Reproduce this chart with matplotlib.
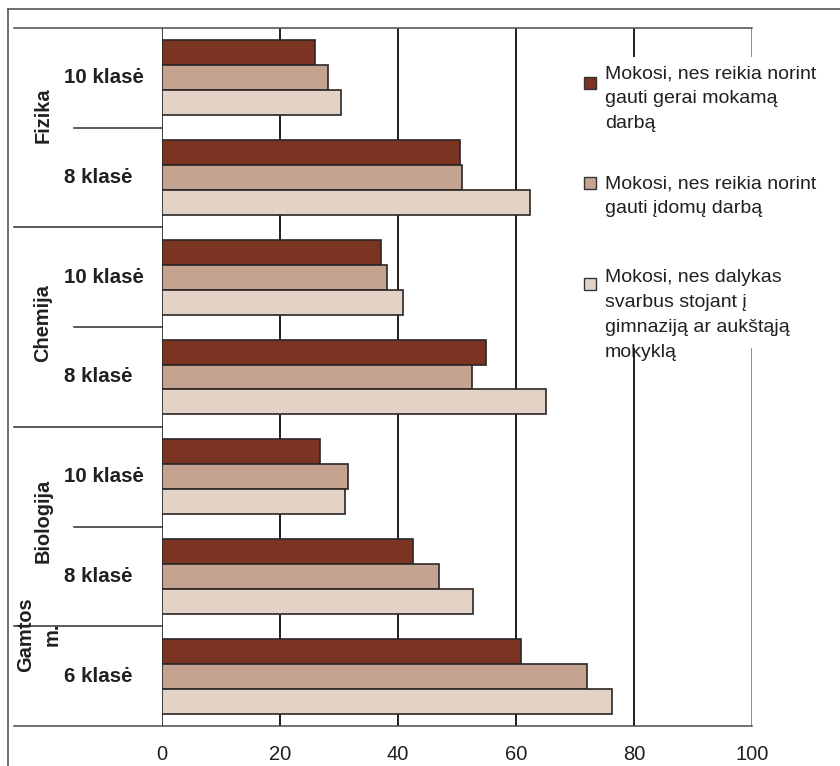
import matplotlib
matplotlib.use("Agg")
import matplotlib.pyplot as plt
import matplotlib.transforms as mtransforms
from matplotlib.patches import Rectangle
from matplotlib.lines import Line2D

plt.rcParams['font.family'] = ['Liberation Sans', 'DejaVu Sans']

# ---------------- data ----------------
categories = ["10 klasė", "8 klasė", "10 klasė", "8 klasė", "10 klasė", "8 klasė", "6 klasė"]
subjects = ["Fizika", "Chemija", "Biologija", "Gamtos\nm."]
subject_label_y = [0.37, 2.46, 4.44, 5.58]
series_labels = [
    "Mokosi, nes reikia norint\ngauti gerai mokamą\ndarbą",
    "Mokosi, nes reikia norint\ngauti įdomų darbą",
    "Mokosi, nes dalykas\nsvarbus stojant į\ngimnaziją ar aukštąją\nmokyklą",
]
pay = [26.0, 50.5, 37.2, 54.9, 26.8, 42.5, 60.8]
interest = [28.1, 50.8, 38.2, 52.6, 31.6, 47.0, 72.0]
admission = [30.3, 62.4, 40.9, 65.1, 31.0, 52.8, 76.3]
xticks = [0, 20, 40, 60, 80, 100]

colors = ["#7a3421", "#c4a391", "#e3d3c7"]
edge = "#2b2626"
txt = "#231f20"

W, H = 840, 766
def fx(px):
    return px / W
def fy(py):
    return 1 - py / H

fig = plt.figure(figsize=(W / 100, H / 100), dpi=100)
fig.patch.set_facecolor("white")
ax = fig.add_axes([fx(161.7), fy(726), fx(752) - fx(161.7), fy(28) - fy(726)])
ax.set_facecolor("none")

ys = list(range(len(categories)))
bh = 0.25
for k, (vals, col) in enumerate(zip([pay, interest, admission], colors)):
    ax.barh([y + (k - 1) * bh for y in ys], vals, height=bh, color=col,
            edgecolor=edge, linewidth=1.2, zorder=3)

ax.set_xlim(0, 100)
ax.set_ylim(len(categories) - 0.5, -0.5)
ax.set_yticks([])
ax.set_xticks(xticks)
ax.tick_params(axis='x', length=0, pad=14, labelsize=14.5, labelcolor=txt)
for s in ax.spines.values():
    s.set_visible(False)

for v in xticks[1:-1]:
    ax.axvline(v, color="#1e1e1e", lw=1.4, zorder=1)
ax.axvline(0, color="#1e1e1e", lw=1.2, zorder=2)
ax.axvline(100, color="#6e6e6e", lw=1.1, zorder=1)

blend = mtransforms.blended_transform_factory(ax.transAxes, ax.transData)
# top / bottom frame lines
for yy in [-0.5, len(categories) - 0.5]:
    ax.plot([-0.25, 1], [yy, yy], transform=blend, clip_on=False,
            color="#4a4a4a", lw=1.1, zorder=2)
# group separators
for yy in [1.5, 3.5, 5.5]:
    ax.plot([-0.25, 0], [yy, yy], transform=blend, clip_on=False,
            color="#2e2e2e", lw=1.1, zorder=2)
for yy in [0.5, 2.5, 4.5]:
    ax.plot([-0.1486, 0], [yy, yy], transform=blend, clip_on=False,
            color="#2e2e2e", lw=1.1, zorder=2)

# category labels
for y, c in zip(ys, categories):
    ax.text(-0.1653, y, c, transform=blend, ha='left', va='center',
            fontsize=14.8, fontweight='bold', color=txt)
# subject labels
for i, (s, yy) in enumerate(zip(subjects, subject_label_y)):
    xx = -0.2079 if "\n" in s else -0.2011
    ax.text(xx, yy, s, transform=blend, ha='center', va='center', rotation=90,
            multialignment='center', fontsize=14.4, fontweight='bold',
            color=txt, linespacing=1.5)

# outer frame (top + left)
fig.add_artist(Line2D([fx(8), 1], [fy(9), fy(9)], transform=fig.transFigure,
                      color="#555555", lw=1.2))
fig.add_artist(Line2D([fx(8), fx(8)], [fy(9), 0], transform=fig.transFigure,
                      color="#555555", lw=1.2))

# legend (manual)
fig.add_artist(Rectangle((fx(575), fy(348)), fx(840) - fx(575), fy(57) - fy(348),
                         transform=fig.transFigure, facecolor="white",
                         edgecolor="none", zorder=1))
sq_top = [77, 177, 278]
text_top = [65.5, 175.5, 269.5]
for lab, col, st, tt in zip(series_labels, colors, sq_top, text_top):
    fig.add_artist(Rectangle((fx(584), fy(st + 11.5)), fx(596) - fx(584), fy(st) - fy(st + 11.5),
                             transform=fig.transFigure, facecolor=col,
                             edgecolor="#333333", lw=1.0, zorder=2))
    fig.text(fx(605), fy(tt), lab, ha='left', va='top', fontsize=14,
             color=txt, linespacing=1.6, zorder=3)

fig.savefig("out.png", dpi=100)
